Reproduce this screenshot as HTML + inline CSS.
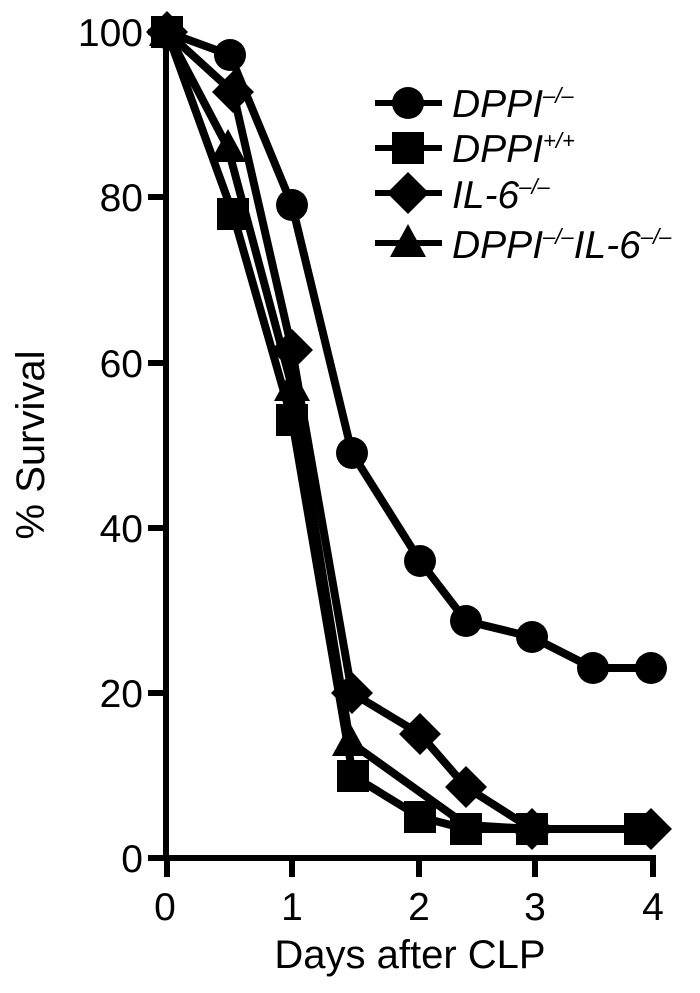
<!DOCTYPE html>
<html><head><meta charset="utf-8"><style>body{margin:0;background:#fff}</style></head><body>
<svg width="700" height="988" viewBox="0 0 700 988" xmlns="http://www.w3.org/2000/svg" font-family="Liberation Sans, sans-serif">
<defs>
<g id="c"><circle r="16" fill="#000"/></g>
<g id="s"><rect x="-16" y="-16" width="32" height="32" fill="#000"/></g>
<g id="d"><polygon points="0,-21 21,0 0,21 -21,0" fill="#000"/></g>
<g id="t"><polygon points="0,-19 18,14 -18,14" fill="#000"/></g>
</defs>
<g stroke="#000" stroke-width="6" fill="none">
<line x1="166" y1="30" x2="166" y2="860"/>
<line x1="148" y1="858" x2="656" y2="858"/>
<line x1="148" y1="32" x2="166" y2="32"/>
<line x1="148" y1="197" x2="166" y2="197"/>
<line x1="148" y1="363" x2="166" y2="363"/>
<line x1="148" y1="528" x2="166" y2="528"/>
<line x1="148" y1="693" x2="166" y2="693"/>
<line x1="167" y1="858" x2="167" y2="877"/>
<line x1="292" y1="858" x2="292" y2="877"/>
<line x1="419" y1="858" x2="419" y2="877"/>
<line x1="535" y1="858" x2="535" y2="877"/>
<line x1="653" y1="858" x2="653" y2="877"/>
</g>
<g font-size="39" text-anchor="end">
<text x="143" y="46">100</text><text x="143" y="211">80</text><text x="143" y="377">60</text><text x="143" y="542">40</text><text x="143" y="707">20</text><text x="143" y="872">0</text>
</g>
<g font-size="39" text-anchor="middle">
<text x="165" y="920">0</text><text x="292" y="920">1</text><text x="419" y="920">2</text><text x="535" y="920">3</text><text x="653" y="920">4</text>
</g>
<g font-size="40" text-anchor="middle">
<text x="410" y="968">Days after CLP</text>
<text transform="translate(44,445) rotate(-90)">% Survival</text>
</g>
<g stroke="#000" stroke-width="8" fill="none" stroke-linejoin="round">
<polyline points="167,32 228,148 292,387 350,742 466,825 532,829 651,829"/>
<polyline points="167,32 233,92 292,350 352,693 420,734 466,787 532,829 651,829"/>
<polyline points="167,32 233,214 292,420 353,776 420,817 466,829 532,829 651,829"/>
<polyline points="167,32 230,55 292,205 352,453 420,561 466,621 532,637 593,668 651,668"/>
</g>
<g>
<use href="#t" x="167" y="32"/><use href="#t" x="228" y="148"/><use href="#t" x="292" y="387"/><use href="#t" x="350" y="742"/>
<use href="#d" x="167" y="32"/><use href="#d" x="233" y="92"/><use href="#d" x="292" y="350"/><use href="#d" x="352" y="693"/><use href="#d" x="420" y="734"/><use href="#d" x="466" y="787"/><use href="#d" x="532" y="829"/><use href="#d" x="651" y="829"/>
<use href="#s" x="167" y="32"/><use href="#s" x="233" y="214"/><use href="#s" x="292" y="420"/><use href="#s" x="353" y="776"/><use href="#s" x="420" y="817"/><use href="#s" x="466" y="829"/><use href="#s" x="532" y="829"/><use href="#s" x="640" y="829"/>
<use href="#c" x="167" y="32"/><use href="#c" x="230" y="55"/><use href="#c" x="292" y="205"/><use href="#c" x="352" y="453"/><use href="#c" x="420" y="561"/><use href="#c" x="466" y="621"/><use href="#c" x="532" y="637"/><use href="#c" x="593" y="668"/><use href="#c" x="651" y="668"/>
</g>
<g stroke="#000" stroke-width="6">
<line x1="375" y1="103" x2="442" y2="103"/><line x1="375" y1="148" x2="442" y2="148"/><line x1="375" y1="193" x2="442" y2="193"/><line x1="375" y1="243" x2="442" y2="243"/>
</g>
<use href="#c" x="408" y="103"/><use href="#s" x="408" y="148"/><use href="#d" x="408" y="193"/><use href="#t" x="408" y="243"/>
<g font-size="39" font-style="italic">
<text x="452" y="117">DPPI<tspan font-size="22" dy="-14">–/–</tspan></text>
<text x="452" y="162">DPPI<tspan font-size="22" dy="-14">+/+</tspan></text>
<text x="452" y="208">IL-6<tspan font-size="22" dy="-14">–/–</tspan></text>
<text x="452" y="258">DPPI<tspan font-size="22" dy="-14">–/–</tspan><tspan dy="14">IL-6</tspan><tspan font-size="22" dy="-14">–/–</tspan></text>
</g>
</svg>
</body></html>
